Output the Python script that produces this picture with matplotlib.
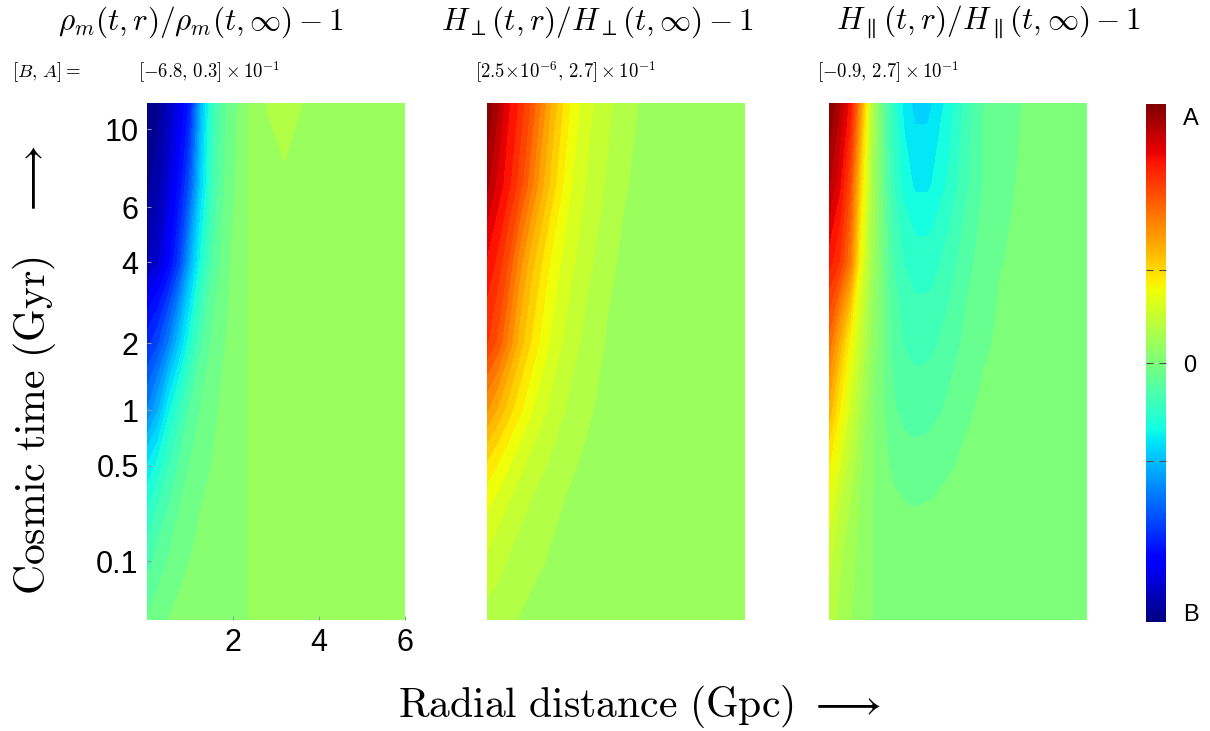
import numpy as np
import matplotlib
matplotlib.use('Agg')
import matplotlib.pyplot as plt
from matplotlib.colors import Normalize

plt.rcParams['mathtext.fontset'] = 'cm'

# grid: radial distance (Gpc) and cosmic time (Gyr)
r_gpc = [0, 0.25, 0.5, 0.75, 1.0, 1.25, 1.5, 1.75, 2.0, 2.3, 2.4, 2.8, 3.2, 3.6, 4.0, 5.0, 6.0]
t_gyr = [0.022, 0.05, 0.1, 0.25, 0.5, 1, 2, 4, 7, 11.7]

# fields in units of 10^-1, one row per time
rho_m = [
    [-0.7, -0.5, -0.4, -0.3, -0.25, -0.2, -0.2, -0.2, -0.2, -0.2, 0, 0, 0, 0, 0, 0, 0],
    [-0.9, -0.7, -0.5, -0.4, -0.3, -0.25, -0.2, -0.2, -0.2, -0.2, 0, 0, 0, 0, 0, 0, 0],
    [-1.2, -0.9, -0.7, -0.5, -0.4, -0.3, -0.25, -0.2, -0.2, -0.2, 0, 0, 0, 0, 0, 0, 0],
    [-1.7, -1.3, -1.0, -0.7, -0.5, -0.4, -0.3, -0.25, -0.2, -0.2, 0, 0, 0, 0, 0, 0, 0],
    [-2.3, -1.9, -1.4, -1.0, -0.7, -0.5, -0.4, -0.3, -0.25, -0.2, 0, 0, 0, 0, 0, 0, 0],
    [-3.6, -3.0, -2.1, -1.5, -1.0, -0.7, -0.5, -0.35, -0.25, -0.2, 0, 0, 0, 0, 0, 0, 0],
    [-4.7, -4.3, -3.6, -2.7, -1.8, -1.1, -0.7, -0.45, -0.3, -0.2, 0, 0, 0, 0, 0, 0, 0],
    [-6.2, -5.9, -5.3, -4.4, -3.1, -1.9, -1.1, -0.65, -0.35, -0.2, 0, 0, 0, 0, 0, 0, 0],
    [-6.6, -6.3, -5.8, -5.1, -4.1, -2.6, -1.4, -0.8, -0.45, -0.2, 0, 0.12, 0.22, 0.1, 0, 0, 0],
    [-6.8, -6.6, -6.1, -5.6, -4.8, -3.0, -1.6, -0.9, -0.5, -0.2, 0, 0.26, 0.3, 0.245, 0, 0, 0],
]

h_perp = [
    [0.22, 0.18, 0.15, 0.11, 0.09, 0.07, 0.05, 0.03, 0.02, 0.01, 0.01, 0.004, 0.001, 2.5e-6, 2.5e-6, 2.5e-6, 2.5e-6],
    [0.28, 0.24, 0.19, 0.15, 0.12, 0.09, 0.07, 0.05, 0.03, 0.02, 0.02, 0.008, 0.003, 0.001, 2.5e-6, 2.5e-6, 2.5e-6],
    [0.38, 0.31, 0.25, 0.20, 0.16, 0.13, 0.10, 0.07, 0.05, 0.03, 0.02, 0.01, 0.004, 0.002, 0.001, 2.5e-6, 2.5e-6],
    [0.54, 0.46, 0.37, 0.30, 0.24, 0.19, 0.15, 0.11, 0.08, 0.05, 0.04, 0.02, 0.008, 0.004, 0.002, 2.5e-6, 2.5e-6],
    [0.80, 0.68, 0.56, 0.45, 0.36, 0.29, 0.23, 0.17, 0.13, 0.09, 0.08, 0.035, 0.015, 0.007, 0.003, 0.001, 2.5e-6],
    [1.28, 1.10, 0.90, 0.73, 0.58, 0.46, 0.36, 0.28, 0.21, 0.15, 0.13, 0.06, 0.03, 0.015, 0.007, 0.002, 2.5e-6],
    [1.85, 1.66, 1.36, 1.06, 0.84, 0.66, 0.52, 0.40, 0.31, 0.22, 0.20, 0.10, 0.05, 0.025, 0.012, 0.003, 2.5e-6],
    [2.10, 1.94, 1.68, 1.34, 1.06, 0.85, 0.66, 0.52, 0.42, 0.31, 0.28, 0.16, 0.08, 0.04, 0.02, 0.005, 2.5e-6],
    [2.45, 2.22, 2.02, 1.78, 1.48, 1.18, 0.92, 0.70, 0.53, 0.40, 0.36, 0.24, 0.13, 0.07, 0.03, 0.008, 2.5e-6],
    [2.70, 2.45, 2.15, 1.95, 1.70, 1.40, 1.10, 0.85, 0.63, 0.48, 0.43, 0.30, 0.18, 0.10, 0.04, 0.01, 2.5e-6],
]

h_par = [
    [0.40, 0.30, 0.20, 0.12, 0.07, 0.01, 0, 0, 0, 0, 0, 0, 0, 0, 0, 0, 0],
    [0.45, 0.32, 0.22, 0.13, 0.07, 0.01, 0, 0, 0, 0, 0, 0, 0, 0, 0, 0, 0],
    [0.50, 0.35, 0.24, 0.14, 0.07, 0.02, 0, 0, 0, 0, 0, 0, 0, 0, 0, 0, 0],
    [0.65, 0.45, 0.30, 0.16, 0.07, 0, -0.03, -0.05, -0.06, -0.05, -0.05, -0.03, 0, 0, 0, 0, 0],
    [0.85, 0.60, 0.40, 0.20, 0.08, -0.02, -0.10, -0.14, -0.15, -0.14, -0.13, -0.08, -0.04, -0.01, 0, 0, 0],
    [1.20, 0.85, 0.55, 0.30, 0.08, -0.05, -0.18, -0.24, -0.26, -0.25, -0.24, -0.17, -0.09, -0.04, -0.02, 0, 0],
    [1.60, 1.20, 0.78, 0.45, 0.15, -0.05, -0.25, -0.34, -0.38, -0.37, -0.36, -0.27, -0.16, -0.09, -0.04, 0, 0],
    [2.10, 1.90, 1.50, 0.70, 0.25, -0.06, -0.33, -0.47, -0.53, -0.53, -0.52, -0.40, -0.25, -0.13, -0.07, -0.02, 0],
    [2.45, 2.20, 1.75, 0.95, 0.30, -0.10, -0.45, -0.64, -0.75, -0.75, -0.72, -0.56, -0.35, -0.19, -0.09, -0.02, 0],
    [2.70, 2.45, 2.10, 1.30, 0.35, -0.15, -0.52, -0.78, -0.90, -0.90, -0.86, -0.66, -0.41, -0.20, -0.10, -0.03, 0],
]

titles = [r'$\rho_m(t,r)/\rho_m(t,\infty)-1$',
          r'$H_\perp(t,r)/H_\perp(t,\infty)-1$',
          r'$H_\parallel(t,r)/H_\parallel(t,\infty)-1$']
range_labels = [r'$[-6.8,\,0.3]\times10^{-1}$',
                r'$[2.5\!\times\!10^{-6},\,2.7]\times10^{-1}$',
                r'$[-0.9,\,2.7]\times10^{-1}$']
# colour limits (units of 10^-1) and number of filled bands
color_limits = [(-6.8, 6.0), (-3.04, 2.7), (-2.7, 2.7)]
n_bands = [40, 40, 41]

y_ticks = [0.1, 0.5, 1, 2, 4, 6, 10]
x_ticks = [2, 4, 6]


def time_fwd(t):
    return np.power(np.clip(t, 1e-6, None), 0.27)


def time_inv(u):
    return np.power(np.clip(u, 0, None), 1 / 0.27)


W, H = 1210, 731
fig = plt.figure(figsize=(W / 100, H / 100), dpi=100)


def px_box(x0, y0, x1, y1):
    return [x0 / W, 1 - y1 / H, (x1 - x0) / W, (y1 - y0) / H]


panel_x = [147, 487, 829]
title_x = [201, 597, 988]
range_x = [138, 475, 817]
fields = [rho_m, h_perp, h_par]

for i in range(3):
    ax = fig.add_axes(px_box(panel_x[i], 103, panel_x[i] + 258, 620))
    lo, hi = color_limits[i]
    levels = np.linspace(lo, hi, n_bands[i] + 1)
    ax.contourf(r_gpc, t_gyr, np.array(fields[i]), levels=levels, cmap='jet',
                norm=Normalize(lo, hi))
    ax.set_yscale('function', functions=(time_fwd, time_inv))
    ax.set_xlim(0, 6)
    ax.set_ylim(0.022, 11.7)
    for s in ax.spines.values():
        s.set_visible(False)
    if i == 0:
        ax.set_xticks(x_ticks)
        ax.set_xticklabels([str(v) for v in x_ticks])
        ax.set_yticks(y_ticks)
        ax.set_yticklabels([('%g' % v) for v in y_ticks])
        ax.yaxis.set_minor_locator(plt.NullLocator())
        ax.tick_params(direction='in', length=3, color='0.6', labelsize=22, pad=6)
        for lab in ax.get_xticklabels() + ax.get_yticklabels():
            lab.set_family('Liberation Sans')
    else:
        ax.set_xticks([])
        ax.set_yticks([])
        ax.yaxis.set_minor_locator(plt.NullLocator())

    fig.text(title_x[i] / W, 1 - 22 / H, titles[i], fontsize=22.5,
             ha='center', va='center')
    fig.text(range_x[i] / W, 1 - 72 / H, range_labels[i], fontsize=13.5,
             ha='left', va='center')

fig.text(12 / W, 1 - 72 / H, r'$[B,\,A] =$', fontsize=13.5, ha='left', va='center')

# colour bar
cax = fig.add_axes(px_box(1146, 104, 1166, 622))
sm = plt.cm.ScalarMappable(norm=Normalize(0, 1), cmap='jet')
cb = fig.colorbar(sm, cax=cax)
cb.outline.set_visible(False)
cb.set_ticks([0.019, 0.31, 0.5, 0.68, 0.975])
cb.set_ticklabels(['B', '', '0', '', 'A'])
cax.yaxis.set_ticks_position('both')
cax.tick_params(direction='in', length=5, width=0.8, color='0.3',
                labelright=True, labelleft=False, labelsize=17, pad=12)
ticks = cax.yaxis.get_major_ticks()
for k in (0, 4):
    ticks[k].tick1line.set_visible(False)
    ticks[k].tick2line.set_visible(False)
for lab in cax.get_yticklabels():
    lab.set_family('Liberation Sans')

fig.text(35 / W, 1 - 370 / H, r'$\mathrm{Cosmic\ time\ (Gyr)}\quad\longrightarrow$',
         fontsize=30, rotation=90, ha='center', va='center')
fig.text(639 / W, 1 - 706 / H, r'$\mathrm{Radial\ distance\ (Gpc)}\ \longrightarrow$',
         fontsize=30, ha='center', va='center')

fig.savefig('out.png', dpi=100)
